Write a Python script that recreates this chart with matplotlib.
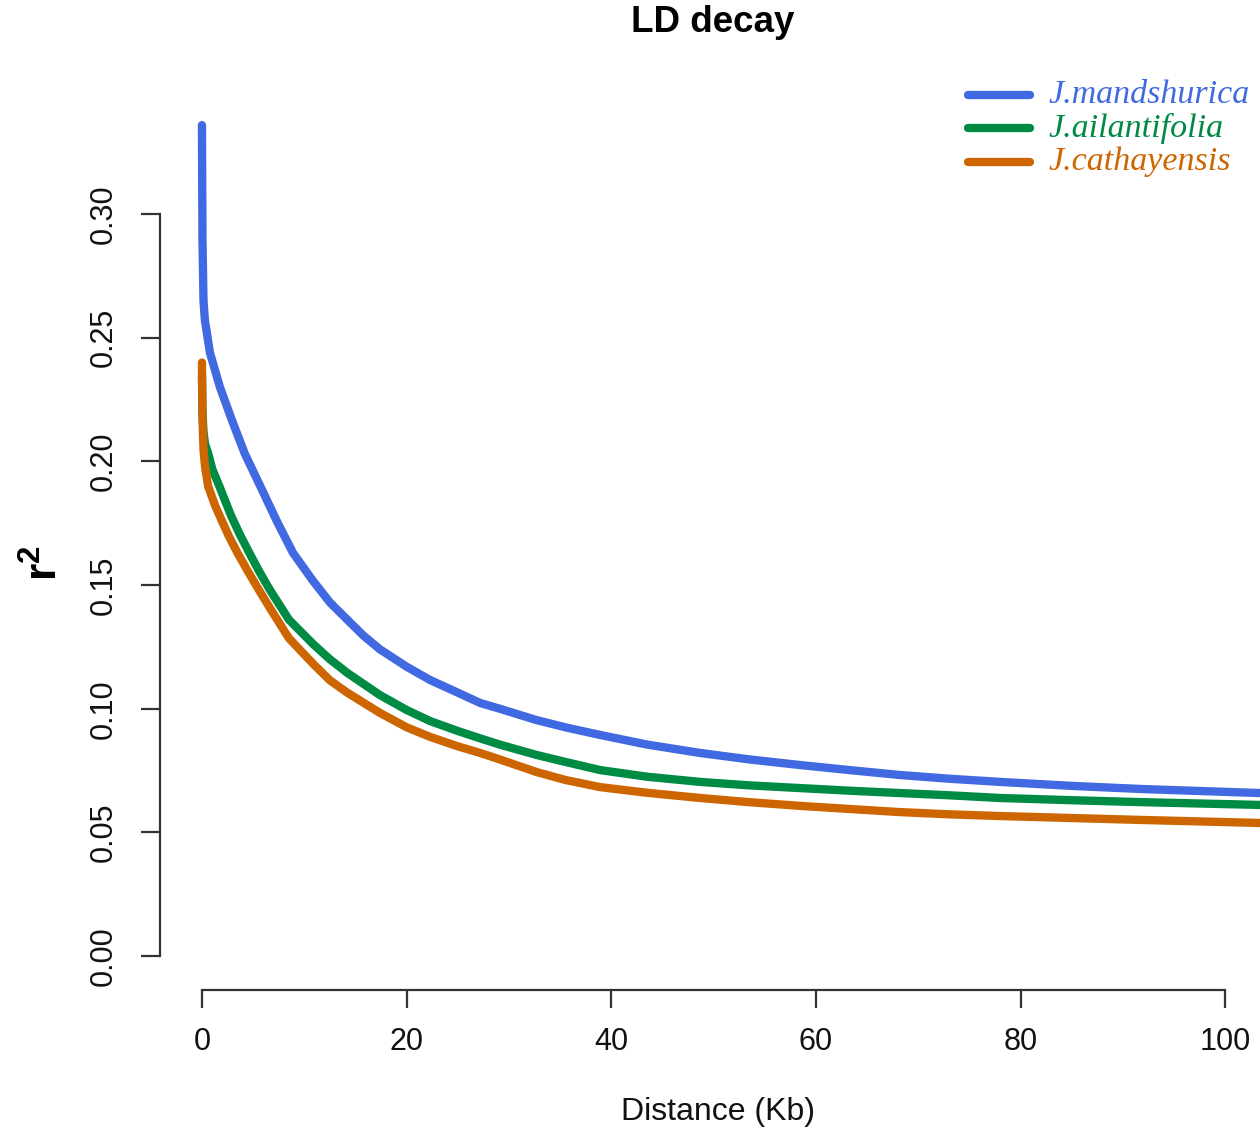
import matplotlib
matplotlib.use("Agg")
import matplotlib.pyplot as plt
from matplotlib.lines import Line2D

# ---- data ----
dist_mand = [0, 0.05, 0.15, 0.29, 0.78, 1.76, 2.9, 4.2, 5.7, 7.3, 8.9, 10.8, 12.5, 14.2, 15.8, 17.4, 20.0, 22.3, 25.0,
             27.2, 29.1, 32.7, 35.5, 38.9, 43.5, 48.7, 53.5, 58.5, 63.5, 68.2, 73.0, 78.0, 85.0, 92.0, 103.4]
r2_mand = [0.336, 0.290, 0.265, 0.257, 0.244, 0.230, 0.217, 0.203, 0.190, 0.176, 0.163, 0.152, 0.143, 0.136, 0.1295,
           0.124, 0.117, 0.1116, 0.1065, 0.1023, 0.1000, 0.0954, 0.0925, 0.0894, 0.0855, 0.0821, 0.0795, 0.0772,
           0.0751, 0.0732, 0.0717, 0.0704, 0.0688, 0.0675, 0.0659]

dist_ail = [0, 0.05, 0.15, 0.3, 0.6, 1.0, 1.7, 2.85, 3.7, 4.7, 5.6, 6.65, 8.5, 10.9, 12.5, 14.2, 17.4, 20.0, 22.3, 25.0,
            27.2, 29.1, 32.7, 35.5, 38.9, 43.5, 48.7, 53.5, 58.5, 63.5, 68.2, 73.0, 78.0, 85.0, 92.0, 103.4]
r2_ail = [0.235, 0.220, 0.212, 0.207, 0.2034, 0.197, 0.190, 0.178, 0.1705, 0.1625, 0.1555, 0.148, 0.136, 0.126, 0.120,
          0.1145, 0.1055, 0.0995, 0.0950, 0.0910, 0.0880, 0.0855, 0.0813, 0.0785, 0.0752, 0.0725, 0.0704, 0.0690,
          0.0679, 0.0668, 0.0659, 0.0650, 0.0639, 0.0630, 0.0622, 0.0611]

dist_cath = [0, 0.05, 0.15, 0.3, 0.6, 1.3, 2.0, 2.6, 3.5, 4.5, 5.5, 6.75, 8.5, 10.9, 12.5, 14.2, 17.4, 20.0, 22.3, 25.0,
             27.2, 29.1, 32.7, 35.5, 38.9, 43.5, 48.7, 53.5, 58.5, 63.5, 68.2, 73.0, 78.0, 85.0, 92.0, 103.4]
r2_cath = [0.240, 0.218, 0.205, 0.198, 0.190, 0.182, 0.1755, 0.170, 0.1628, 0.1555, 0.1485, 0.140, 0.1285, 0.118,
           0.1115, 0.1065, 0.0983, 0.0925, 0.0886, 0.0848, 0.0821, 0.0795, 0.0744, 0.0712, 0.0683, 0.0660, 0.0639,
           0.0622, 0.0607, 0.0594, 0.0582, 0.0573, 0.0566, 0.0558, 0.0550, 0.0538]

species = ["J.mandshurica", "J.ailantifolia", "J.cathayensis"]
colors = ["#4169E1", "#008B45", "#CD6600"]
x_ticks = [0, 20, 40, 60, 80, 100]
y_ticks = [0.00, 0.05, 0.10, 0.15, 0.20, 0.25, 0.30]
y_ticklabels = ["0.00", "0.05", "0.10", "0.15", "0.20", "0.25", "0.30"]

plt.rcParams['font.family'] = ['Liberation Sans', 'DejaVu Sans']
plt.rcParams['mathtext.fontset'] = 'custom'
plt.rcParams['mathtext.rm'] = 'Liberation Sans'
plt.rcParams['mathtext.bf'] = 'Liberation Sans:bold'

W, H = 1260, 1132
fig = plt.figure(figsize=(W / 100, H / 100), dpi=100)

# axes occupies px x 160..1260, y 70..990
ax = fig.add_axes([160 / W, (H - 990) / H, 1100 / W, (990 - 70) / H])
ax.set_xlim(-4.1, 103.4)
ax.set_ylim(-0.01375, 0.3583)

axis_col = "#333333"
series = [(dist_ail, r2_ail, colors[1]), (dist_cath, r2_cath, colors[2]), (dist_mand, r2_mand, colors[0])]
for xs, ys, c in series:
    ax.plot(xs, ys, color=c, lw=6.0, solid_capstyle='round', solid_joinstyle='round', clip_on=False)

for s in ["top", "right"]:
    ax.spines[s].set_visible(False)
ax.spines["left"].set_bounds(0, 0.30)
ax.spines["bottom"].set_bounds(0, 100)
for s in ["left", "bottom"]:
    ax.spines[s].set_linewidth(1.6)
    ax.spines[s].set_color(axis_col)

ax.set_xticks(x_ticks)
ax.set_xticklabels([str(v) for v in x_ticks])
ax.set_yticks(y_ticks)
ax.set_yticklabels(y_ticklabels, rotation=90, va='center')
ax.tick_params(axis='x', length=13, width=1.6, color=axis_col, pad=14, labelsize=22, labelcolor='#111111')
ax.tick_params(axis='y', length=14, width=1.6, color=axis_col, pad=16, labelsize=22, labelcolor='#111111')

# titles / labels
fig.text(713 / W, 1 - 23 / H, "LD decay", ha='center', va='center', fontsize=26.5, fontweight='bold')
fig.text(718 / W, 1 - 1112 / H, "Distance (Kb)", ha='center', va='center', fontsize=23, color='#111111')
fig.text(45 / W, 1 - 563 / H, r"$\mathbf{r^2}$", ha='center', va='center', fontsize=32, rotation=90)

# legend (manual, R-style)
leg_y = [95, 128, 162]
for name, c, yy in zip(species, colors, leg_y):
    fig.add_artist(Line2D([968 / W, 1030 / W], [1 - yy / H, 1 - yy / H], color=c, lw=6.0,
                          solid_capstyle='round', transform=fig.transFigure))
    fig.text(1048 / W, 1 - yy / H, name, ha='left', va='center', fontsize=24.5, color=c,
             family='Liberation Serif', style='italic')

fig.savefig("out.png", dpi=100)
